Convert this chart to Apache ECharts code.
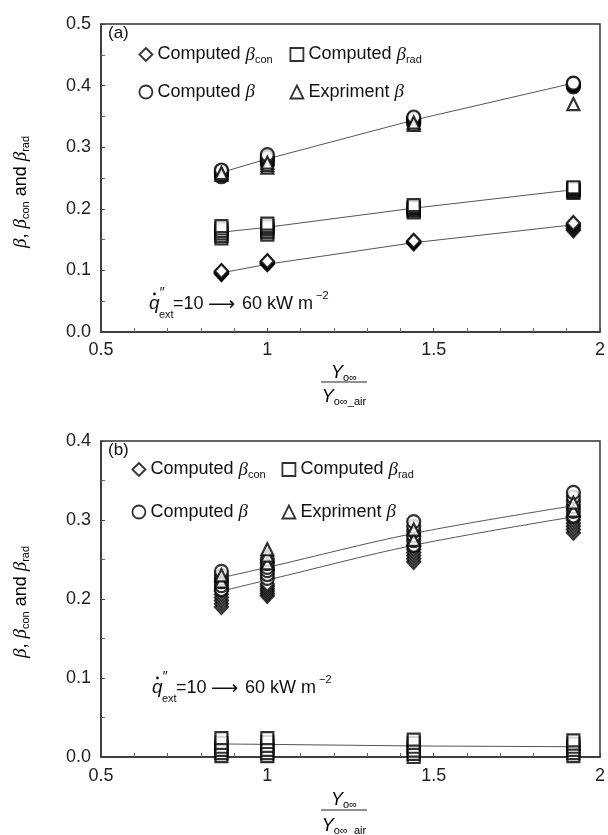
<!DOCTYPE html>
<html><head><meta charset="utf-8">
<script src="https://cdn.jsdelivr.net/npm/echarts@6/dist/echarts.min.js"></script>
<style>html,body{margin:0;padding:0;background:#fff}#c{width:608px;height:835px}</style>
</head><body><div id="c"></div>
<script>
// ---------- data ----------
const xRatio = [0.862, 1.0, 1.44, 1.92];   // Y_o∞ / Y_o∞_air

// panel (a)
const aCon  = [[0.094,0.095,0.096,0.097,0.098,0.099],[0.110,0.111,0.112,0.113,0.114,0.115],[0.144,0.145,0.146,0.146,0.147,0.148],[0.165,0.168,0.171,0.173,0.175,0.177]];
const aRad  = [[0.152,0.156,0.160,0.164,0.168,0.172],[0.158,0.162,0.166,0.169,0.172,0.176],[0.194,0.197,0.199,0.201,0.203,0.206],[0.226,0.228,0.230,0.232,0.233,0.235]];
const aBeta = [[0.252,0.255,0.257,0.259,0.261,0.263],[0.272,0.275,0.278,0.281,0.284,0.288],[0.338,0.341,0.343,0.345,0.347,0.349],[0.398,0.400,0.401,0.402,0.403,0.404]];
const aExp  = [[0.255,0.258],[0.267,0.271,0.275],[0.336,0.340],[0.370]];
const aFitBeta = [0.259, 0.281, 0.344, 0.404];
const aFitRad  = [0.162, 0.170, 0.201, 0.231];
const aFitCon  = [0.096, 0.110, 0.145, 0.174];

// panel (b)
const bCon  = [[0.190,0.194,0.198,0.202,0.206,0.210],[0.204,0.207,0.210,0.213,0.216,0.219],[0.247,0.251,0.255,0.259,0.263,0.267],[0.284,0.288,0.292,0.296,0.300,0.304]];
const bRad  = [[0.001,0.005,0.009,0.013,0.018,0.024],[0.001,0.005,0.009,0.014,0.019,0.024],[0.000,0.004,0.008,0.013,0.018,0.022],[0.001,0.005,0.009,0.013,0.017,0.021]];
const bBeta = [[0.212,0.217,0.222,0.226,0.230,0.235],[0.226,0.231,0.236,0.240,0.245,0.250],[0.268,0.274,0.280,0.286,0.292,0.298],[0.305,0.311,0.317,0.323,0.329,0.335]];
const bExp  = [[0.222,0.230],[0.245,0.255,0.263],[0.275,0.288],[0.312,0.322]];
const bFitUpper = [0.227, 0.240, 0.283, 0.318];
const bFitLower = [0.210, 0.224, 0.268, 0.304];
const bFitRad   = [0.0165, 0.016, 0.014, 0.013];

const xMin = 0.5, xMax = 2, xStep = 0.5;
const aYMax = 0.5, bYMax = 0.4, yStep = 0.1;

// ---------- helpers ----------
const FONT = '"Liberation Sans", Arial, sans-serif';
const GREEK = '"Liberation Serif", "DejaVu Serif", serif';
const INK = '#111';
function pts(groups){ const o=[]; groups.forEach((g,i)=>g.forEach(v=>o.push([xRatio[i], v]))); return o; }
function ln(ys){ return xRatio.map((x,i)=>[x, ys[i]]); }

const mk = {color:'#fff', borderColor:'#000', borderWidth:2.2};
function scat(name, sym, size, data, g){
  return {name, type:'scatter', xAxisIndex:g, yAxisIndex:g, symbol:sym, symbolSize:size,
    itemStyle:mk, data:pts(data), z:3, emphasis:{disabled:true}};
}
function fit(ys, g, smooth){
  return {type:'line', xAxisIndex:g, yAxisIndex:g, data:ln(ys), showSymbol:false, symbol:'none',
    smooth: smooth ? 0.35 : false, lineStyle:{color:'#555', width:1}, z:2, silent:true};
}

const richBase = {
  t:{fontSize:18, fontFamily:FONT, color:INK, lineHeight:22},
  g:{fontSize:19, fontFamily:GREEK, fontStyle:'italic', color:INK, lineHeight:22},
  s:{fontSize:11, fontFamily:FONT, color:INK, lineHeight:6, verticalAlign:'bottom'}
};
const legendLabel = {
  con:'{t|Computed }{g|β}{s|con}', rad:'{t|Computed }{g|β}{s|rad}',
  beta:'{t|Computed }{g|β}', exp:'{t|Expriment }{g|β}'
};
function leg(left, top, gap, names){
  return {left, top, orient:'vertical', itemGap:gap, itemWidth:13, itemHeight:13, selectedMode:false,
    data:names, formatter:n=>legendLabel[n.slice(2)], textStyle:{rich:richBase}, padding:0,
    itemStyle:{color:'#fff', borderColor:'#000', borderWidth:1.8}};
}

function xAx(g, margin){
  return {gridIndex:g, type:'value', min:xMin, max:xMax, interval:xStep,
    axisLine:{lineStyle:{color:'#333', width:1.5}},
    axisTick:{inside:true, length:4, lineStyle:{color:'#444'}},
    minorTick:{show:true, splitNumber:5, length:4, lineStyle:{color:'#666'}},
    splitLine:{show:false},
    axisLabel:{fontSize:18, fontFamily:FONT, color:'#222', margin}};
}
function yAx(g, max){
  return {gridIndex:g, type:'value', min:0, max, interval:yStep,
    axisLine:{show:true, lineStyle:{color:'#333', width:1.5}},
    axisTick:{show:true, inside:true, length:4, lineStyle:{color:'#444'}},
    minorTick:{show:true, splitNumber:2, length:4, lineStyle:{color:'#666'}},
    splitLine:{show:false},
    axisLabel:{fontSize:18, fontFamily:FONT, color:'#222', margin:10, formatter:v=>v.toFixed(1)}};
}

function txt(x, y, text, opt){
  return Object.assign({type:'text', x, y, silent:true,
    style:Object.assign({text, fill:INK, font:'18px '+FONT, align:'left', verticalAlign:'middle'}, opt||{})});
}
function anno(x0, y0){
  return {type:'group', silent:true, children:[
    txt(x0, y0, 'q', {font:'italic 19px '+FONT}),
    {type:'circle', shape:{cx:x0+5.5, cy:y0-10, r:1.4}, style:{fill:INK}},
    txt(x0+10, y0-11, '″', {font:'italic 14px '+FONT}),
    txt(x0+10, y0+11, 'ext', {font:'11px '+FONT}),
    txt(x0+24, y0, '=10', {}),
    txt(x0+59, y0+1, '⟶', {font:'19px "DejaVu Sans", sans-serif'}),
    txt(x0+93, y0, '60 kW m', {}),
    txt(x0+167, y0-8, '−2', {font:'11px '+FONT})
  ]};
}
const richAx = {
  y:{fontSize:18, fontFamily:FONT, fontStyle:'italic', color:INK, lineHeight:20},
  g:{fontSize:19, fontFamily:GREEK, fontStyle:'italic', color:INK, lineHeight:20},
  t:{fontSize:18, fontFamily:FONT, color:INK, lineHeight:20},
  s:{fontSize:11, fontFamily:FONT, color:INK, lineHeight:6, verticalAlign:'bottom'}
};
function yName(cx, cy){
  return {type:'text', x:cx, y:cy, rotation:Math.PI/2, silent:true,
    style:{text:'{g|β}{t|, }{g|β}{s|con}{t| and }{g|β}{s|rad}', rich:richAx, align:'center', verticalAlign:'middle'}};
}
function xName(cx, lineY, numY, denY){
  return {type:'group', silent:true, children:[
    {type:'text', x:cx, y:numY, style:{text:'{y|Y}{s|o∞}', rich:richAx, align:'center', verticalAlign:'middle'}},
    {type:'line', shape:{x1:cx-23, y1:lineY, x2:cx+23, y2:lineY}, style:{stroke:'#222', lineWidth:1}},
    {type:'text', x:cx, y:denY, style:{text:'{y|Y}{s|o∞_air}', rich:richAx, align:'center', verticalAlign:'middle'}}
  ]};
}

const chart = echarts.init(document.getElementById('c'), null, {renderer:'canvas'});
chart.setOption({
  animation:false,
  backgroundColor:'#fff',
  grid:[
    {left:101, top:24, width:502, height:308, show:true, borderColor:'#333', borderWidth:1.5},
    {left:101, top:441, width:502, height:316, show:true, borderColor:'#333', borderWidth:1.5}
  ],
  xAxis:[xAx(0, 9), xAx(1, 10)],
  yAxis:[yAx(0, aYMax), yAx(1, bYMax)],
  legend:[
    leg(138.5, 45, 17, ['a_con','a_beta']),
    leg(289.5, 45, 17, ['a_rad','a_exp']),
    leg(131.5, 460, 22, ['b_con','b_beta']),
    leg(281.5, 460, 22, ['b_rad','b_exp'])
  ],
  series:[
    fit(aFitBeta,0,false), fit(aFitRad,0,false), fit(aFitCon,0,false),
    scat('a_rad','rect',12,aRad,0),
    scat('a_con','diamond',[13,14],aCon,0),
    scat('a_beta','circle',13,aBeta,0),
    scat('a_exp','triangle',12,aExp,0),
    fit(bFitUpper,1,true), fit(bFitLower,1,true), fit(bFitRad,1,false),
    scat('b_rad','rect',12,bRad,1),
    scat('b_con','diamond',[13,14],bCon,1),
    scat('b_beta','circle',13,bBeta,1),
    scat('b_exp','triangle',12,bExp,1)
  ],
  graphic:[
    txt(108, 33, '(a)', {font:'17px '+FONT}),
    txt(108, 450, '(b)', {font:'17px '+FONT}),
    anno(149, 304),
    anno(152, 688),
    yName(21, 192),
    yName(21, 602),
    xName(344, 382, 373, 397),
    xName(344, 810, 800, 826)
  ]
});
</script></body></html>
